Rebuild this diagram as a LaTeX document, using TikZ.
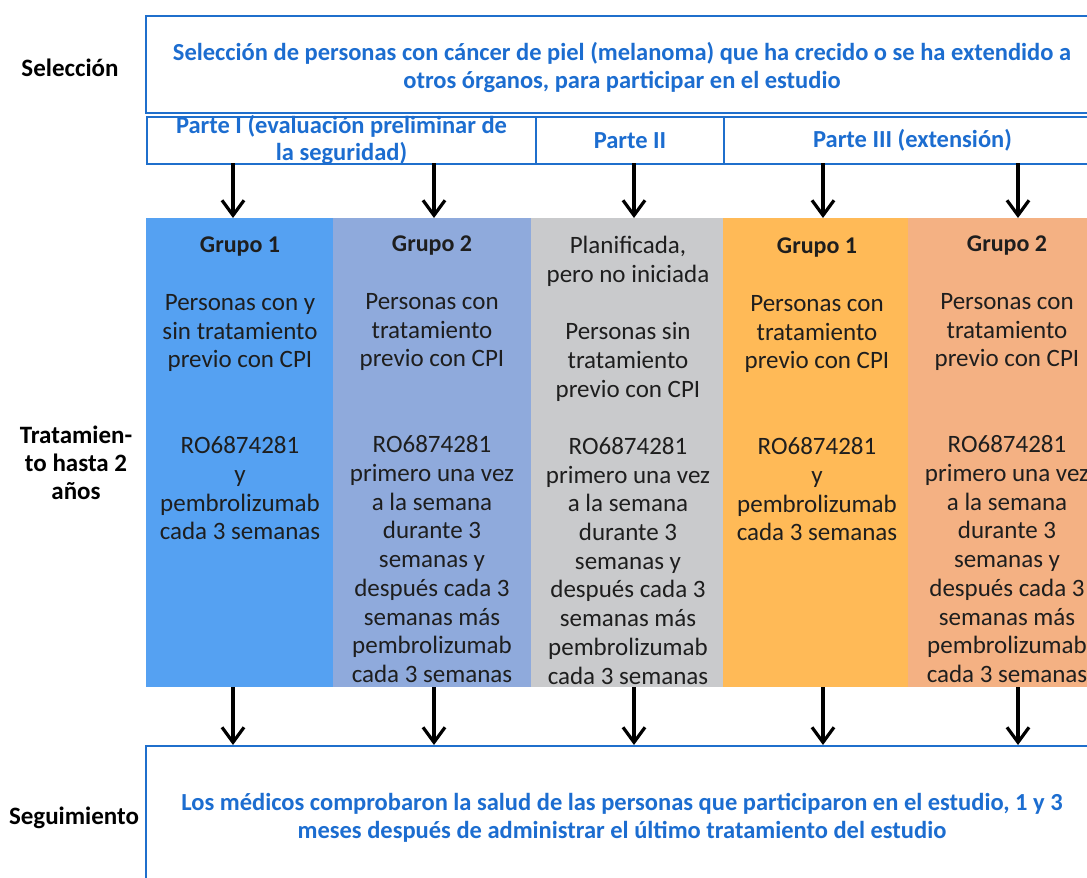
\documentclass[tikz,border=0pt]{standalone}
\usepackage{fontspec}
\setmainfont{Carlito}
\usetikzlibrary{arrows.meta}
\definecolor{bline}{RGB}{31,111,204}
\definecolor{btext}{RGB}{28,109,208}
\definecolor{cA}{RGB}{85,161,242}
\definecolor{cB}{RGB}{143,170,220}
\definecolor{cC}{RGB}{201,202,204}
\definecolor{cD}{RGB}{255,186,87}
\definecolor{cE}{RGB}{244,177,131}
\definecolor{ctext}{RGB}{30,30,30}
\newcommand{\grpfont}{\bfseries\fontsize{24}{28.7}\selectfont}
\tikzset{
  frame/.style={draw=bline, line width=2pt, fill=white, inner sep=0pt},
  bluetxt/.style={text=btext, font=\bfseries\fontsize{24.5}{28}\selectfont, align=center, inner sep=0pt},
  sidelbl/.style={text=black, font=\bfseries\fontsize{25}{27.8}\selectfont, inner sep=0pt},
  colbox/.style={inner sep=0pt, anchor=north west, minimum height=469pt},
  coltxt/.style={text=ctext, font=\fontsize{25}{28.7}\selectfont, align=center, inner sep=0pt, anchor=north},
  arr/.style={draw=black, line width=3.2pt, -{Straight Barb[length=15pt,width=22pt,line width=3.2pt]}}
}
\begin{document}
\begin{tikzpicture}[x=1pt,y=-1pt]
\useasboundingbox (0,0) rectangle (1087,878);
\clip (0,0) rectangle (1087,878);

% top selection box
\path[frame] (146,16) rectangle (1098,113);
\node[bluetxt] (sel) at (622,67) {Selección de personas con cáncer de piel (melanoma) que ha crecido o se ha extendido a\\otros órganos, para participar en el estudio};

% parts
\node[frame, anchor=north west, minimum width=389pt, minimum height=47pt] (p1) at (146,116) {};
\node[frame, anchor=north west, minimum width=188pt, minimum height=47pt] (p2) at (535,116) {};
\node[frame, anchor=north west, minimum width=375pt, minimum height=47pt] (p3) at (723,116) {};
\node[bluetxt, font=\bfseries\fontsize{24.5}{27}\selectfont] (p1t) at ([yshift=1pt]p1.center) {Parte I (evaluación preliminar de\\la seguridad)};
\node[bluetxt] (p2t) at (p2.center) {Parte II};
\node[bluetxt] (p3t) at ([xshift=1pt]p3.center) {Parte III (extensión)};

% columns
\node[colbox, fill=cA, minimum width=187pt] (c1) at (146,218) {};
\node[colbox, fill=cB, minimum width=198pt] (c2) at (333,218) {};
\node[colbox, fill=cC, minimum width=192pt] (c3) at (531,218) {};
\node[colbox, fill=cD, minimum width=185pt] (c4) at (723,218) {};
\node[colbox, fill=cE, minimum width=190pt] (c5) at (908,218) {};

\node[coltxt] (t1) at (240,237) {{\grpfont Grupo 1}\\[28.7pt]Personas con y\\sin tratamiento\\previo con CPI\\[57.4pt]RO6874281\\y\\pembrolizumab\\cada 3 semanas};
\node[coltxt] (t2) at (432,236) {{\grpfont Grupo 2}\\[28.7pt]Personas con\\tratamiento\\previo con CPI\\[57.4pt]RO6874281\\primero una vez\\a la semana\\durante 3\\semanas y\\después cada 3\\semanas más\\pembrolizumab\\cada 3 semanas};
\node[coltxt] (t3) at (628,236) {Planificada,\\pero no iniciada\\[28.7pt]Personas sin\\tratamiento\\previo con CPI\\[28.7pt]RO6874281\\primero una vez\\a la semana\\durante 3\\semanas y\\después cada 3\\semanas más\\pembrolizumab\\cada 3 semanas};
\node[coltxt] (t4) at (817,238) {{\grpfont Grupo 1}\\[28.7pt]Personas con\\tratamiento\\previo con CPI\\[57.4pt]RO6874281\\y\\pembrolizumab\\cada 3 semanas};
\node[coltxt] (t5) at (1007,236) {{\grpfont Grupo 2}\\[28.7pt]Personas con\\tratamiento\\previo con CPI\\[57.4pt]RO6874281\\primero una vez\\a la semana\\durante 3\\semanas y\\después cada 3\\semanas más\\pembrolizumab\\cada 3 semanas};

% follow-up box
\path[frame] (146,746) rectangle (1098,900);
\node[bluetxt] (seg) at (622,818) {Los médicos comprobaron la salud de las personas que participaron en el estudio, 1 y 3\\meses después de administrar el último tratamiento del estudio};

% side labels
\node[sidelbl] (l1) at (70,68) {Selección};
\node[sidelbl, align=center] (l2) at (76,463) {Tratamien-\\to hasta 2\\años};
\node[sidelbl] (l3) at (74,818) {Seguimiento};

% arrows
\coordinate (a1) at (233,163);
\coordinate (a2) at (434,163);
\coordinate (a3) at (634,163);
\coordinate (a4) at (823,163);
\coordinate (a5) at (1018,163);
\draw[arr] (a1) -- (a1 |- c1.north);
\draw[arr] (a2) -- (a2 |- c2.north);
\draw[arr] (a3) -- (a3 |- c3.north);
\draw[arr] (a4) -- (a4 |- c4.north);
\draw[arr] (a5) -- (a5 |- c5.north);
\coordinate (b1) at (233,687);
\coordinate (b2) at (434,687);
\coordinate (b3) at (634,687);
\coordinate (b4) at (823,687);
\coordinate (b5) at (1018,687);
\coordinate (f) at (146,745);
\draw[arr] (b1) -- (b1 |- f);
\draw[arr] (b2) -- (b2 |- f);
\draw[arr] (b3) -- (b3 |- f);
\draw[arr] (b4) -- (b4 |- f);
\draw[arr] (b5) -- (b5 |- f);
\end{tikzpicture}
\end{document}
